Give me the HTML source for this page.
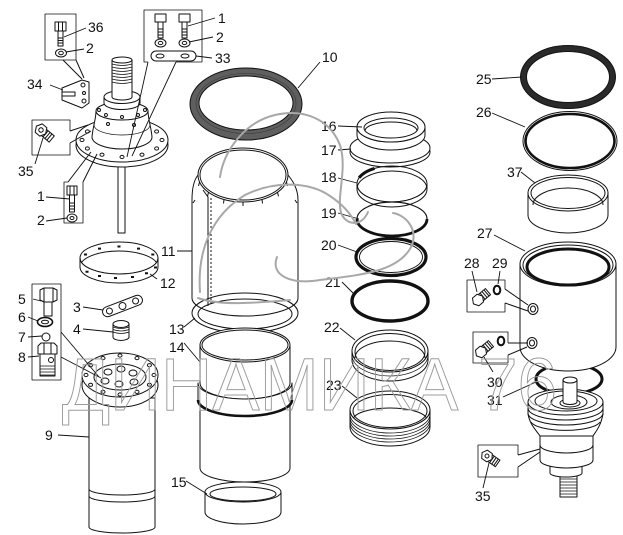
<!DOCTYPE html>
<html><head><meta charset="utf-8">
<style>
html,body{margin:0;padding:0;background:#fff;width:623px;height:535px;overflow:hidden}
svg{display:block}
</style></head><body>
<svg width="623" height="535" viewBox="0 0 623 535" xmlns="http://www.w3.org/2000/svg">
<rect width="623" height="535" fill="#fff"/>
<g fill="#fff" stroke="#111" stroke-width="1" stroke-linejoin="round">
<!-- top-left box 36/2 and bracket 34 -->
<rect x="45" y="14" width="31" height="46" fill="none" stroke-width="0.8"/>
<path d="M55,22 h11 v9 h-11 z M58.5,22 v9 M62.5,22 v9"/>
<rect x="58" y="31" width="5" height="15"/>
<path d="M58,38 h5 M58,40.5 h5 M58,43 h5 M63,60 L82,79 M76,60 L84,78" fill="none"/>
<ellipse cx="61" cy="53" rx="5.5" ry="4"/><ellipse cx="61" cy="53" rx="2.3" ry="1.7"/>
<path d="M62,88 L82,80 L89,82 L89,103 L82,108 L62,100 Z"/>
<path d="M62,92 L75,92 L75,96 L62,96" fill="none"/>
<circle cx="83" cy="85" r="2"/><circle cx="84" cy="93" r="1.5"/><circle cx="84" cy="101" r="2"/>
<!-- top box 1/2/33 -->
<polyline points="148,62 144,62 144,10 202,10 202,62 176,62" fill="none" stroke-width="0.8"/>
<path d="M155,14 h11 v8 h-11 z M179,14 h11 v8 h-11 z"/>
<rect x="158" y="22" width="5" height="16"/><rect x="182" y="22" width="5" height="16"/>
<path d="M158,29 h5 M158,32 h5 M158,35 h5 M182,29 h5 M182,32 h5 M182,35 h5" fill="none"/>
<ellipse cx="160.5" cy="43" rx="5.5" ry="4"/><ellipse cx="160.5" cy="43" rx="2.3" ry="1.6"/>
<ellipse cx="184.5" cy="43" rx="5.5" ry="4"/><ellipse cx="184.5" cy="43" rx="2.3" ry="1.6"/>
<rect x="151" y="51" width="45" height="10" rx="5"/>
<ellipse cx="160" cy="56" rx="4" ry="2"/><ellipse cx="185" cy="56" rx="4" ry="2"/>
<!-- housing with flange -->
<rect x="118" y="150" width="7" height="83"/>
<ellipse cx="122" cy="145" rx="46" ry="22"/>
<ellipse cx="122" cy="140" rx="46" ry="22"/>
<path d="M160,140a2,1.6 0 1,0 4,0a2,1.6 0 1,0 -4,0 M154.6,148.5a2,1.6 0 1,0 4,0a2,1.6 0 1,0 -4,0 M140,154.7a2,1.6 0 1,0 4,0a2,1.6 0 1,0 -4,0 M120,157a2,1.6 0 1,0 4,0a2,1.6 0 1,0 -4,0 M100,154.7a2,1.6 0 1,0 4,0a2,1.6 0 1,0 -4,0 M85.4,148.5a2,1.6 0 1,0 4,0a2,1.6 0 1,0 -4,0 M80,140a2,1.6 0 1,0 4,0a2,1.6 0 1,0 -4,0 M85.4,131.5a2,1.6 0 1,0 4,0a2,1.6 0 1,0 -4,0 M154.6,131.5a2,1.6 0 1,0 4,0a2,1.6 0 1,0 -4,0"/>
<path d="M92,137 C93,126 96,119 96,111 L148,111 C148,119 151,126 152,137 A30,12 0 0 1 92,137 Z"/>
<path d="M94,125 A28,10 0 0 0 150,125" fill="none" stroke-width="0.7"/>
<ellipse cx="122" cy="111" rx="26" ry="9"/>
<path d="M120.5,117a1.5,1.5 0 1,0 3,0a1.5,1.5 0 1,0 -3,0 M104.5,115a1.5,1.5 0 1,0 3,0a1.5,1.5 0 1,0 -3,0 M136.5,115a1.5,1.5 0 1,0 3,0a1.5,1.5 0 1,0 -3,0 M97.5,110a1.5,1.5 0 1,0 3,0a1.5,1.5 0 1,0 -3,0 M143.5,110a1.5,1.5 0 1,0 3,0a1.5,1.5 0 1,0 -3,0 M106.5,124a1.5,1.5 0 1,0 3,0a1.5,1.5 0 1,0 -3,0 M132.5,125a1.5,1.5 0 1,0 3,0a1.5,1.5 0 1,0 -3,0"/>
<path d="M104,97 V103 A18,6.5 0 0 0 140,103 V97 Z"/>
<ellipse cx="122" cy="97" rx="18" ry="6.5"/>
<path d="M112,60 V97 A10,3 0 0 0 132,97 V60 Z"/>
<ellipse cx="122" cy="60" rx="10" ry="3"/>
<path d="M112,64 Q122,67 132,64 M112,67 Q122,70 132,67 M112,70 Q122,73 132,70 M112,73 Q122,76 132,73 M112,76 Q122,79 132,76 M112,79 Q122,82 132,79 M112,82 Q122,85 132,82" fill="none" stroke-width="0.8"/>
<!-- box 35 left -->
<polyline points="70,131 70,120 32,120 32,155 70,155 70,143" fill="none" stroke-width="0.8"/>
<path d="M70,131 L88,125 M70,143 L91,131" fill="none"/>
<g transform="rotate(40 41 130)">
<rect x="44" y="126" width="11" height="8"/>
<path d="M47,126 v8 M49.5,126 v8 M52,126 v8" fill="none"/>
<polygon points="35,130 38,124.5 44,124.5 47,130 44,135.5 38,135.5"/>
<circle cx="41" cy="130" r="2.2"/>
</g>
<!-- lower box 1/2 -->
<polyline points="68,182 64,182 64,223 83,223 83,182" fill="none" stroke-width="0.8"/>
<path d="M68,182 L91,152 M83,182 L97,154" fill="none"/>
<path d="M67,186 h10 v9 h-10 z M70,186 v9 M74,186 v9"/>
<rect x="69.5" y="195" width="5" height="17"/>
<path d="M69.5,203 h5 M69.5,206 h5 M69.5,209 h5" fill="none"/>
<ellipse cx="72" cy="218" rx="5" ry="4"/><ellipse cx="72" cy="218" rx="2" ry="1.5"/>
<!-- ring 12 -->
<ellipse cx="119" cy="258" rx="39" ry="16" fill="none"/>
<path d="M80,267 A39,16 0 0 1 158,267" fill="none"/>
<path d="M80,258 V267 A39,16 0 0 0 158,267 V258 A39,16 0 0 1 80,258 Z"/>
<path fill="none" stroke-width="2" d="M154,267.5h3 M145,273.3h3 M131,277h3 M114,278h3 M98,276h3 M85.5,271.7h3 M84,254.5h3 M98,248.6h3 M117.5,246.5h3 M137,248.6h3 M151.3,254.5h3"/>
<!-- plate 3 -->
<g transform="translate(122.5,306) rotate(-21)">
<rect x="-21" y="-5" width="42" height="10" rx="5"/>
<circle cx="-14" cy="0" r="3"/><circle cx="0" cy="0" r="3.5"/><circle cx="14" cy="0" r="3"/>
</g>
<!-- part 4 -->
<path d="M113,324 V337 A8,3.5 0 0 0 129,337 V324 Z"/>
<ellipse cx="121" cy="324" rx="8" ry="3.5"/>
<path d="M113,327 Q121,330 129,327 M113,329.5 Q121,332.5 129,329.5 M113,332 Q121,335 129,332" fill="none" stroke-width="0.8"/>
<!-- box 5-8 -->
<rect x="32" y="284" width="29" height="96" fill="none" stroke-width="0.8"/>
<polygon points="40,290 44,288 53,288 57,290 57,300 53,302 44,302 40,300"/>
<path d="M44,288 v14 M53,288 v14" fill="none"/>
<rect x="44" y="302" width="8" height="14"/>
<ellipse cx="45" cy="322" rx="7.5" ry="4.5" stroke-width="1.6"/><ellipse cx="45" cy="322" rx="3.5" ry="1.8"/>
<circle cx="46" cy="337" r="4"/>
<polygon points="38,346 41,343 54,343 57,346 57,354 38,354"/>
<path d="M44,343 v11 M51,343 v11" fill="none"/>
<rect x="40" y="354" width="15" height="22"/>
<path d="M40,366 h15 M40,369 h15 M40,372 h15 M40,375 h15" fill="none" stroke-width="0.8"/>
<circle cx="51" cy="360" r="2.5"/>
<!-- part 9 -->
<path d="M89,398 V527 A33,6 0 0 0 155,527 V398 Z"/>
<path d="M89,489 A33,6 0 0 0 155,489 M89,496 A33,6 0 0 0 155,496" fill="none"/>
<ellipse cx="120" cy="385" rx="38" ry="22"/>
<ellipse cx="120" cy="375" rx="38" ry="22"/>
<ellipse cx="120" cy="377" rx="26" ry="13"/>
<path d="M152,375a2,1.6 0 1,0 4,0a2,1.6 0 1,0 -4,0 M147.4,384.8a2,1.6 0 1,0 4,0a2,1.6 0 1,0 -4,0 M135,391.9a2,1.6 0 1,0 4,0a2,1.6 0 1,0 -4,0 M118,394.5a2,1.6 0 1,0 4,0a2,1.6 0 1,0 -4,0 M101,391.9a2,1.6 0 1,0 4,0a2,1.6 0 1,0 -4,0 M88.6,384.8a2,1.6 0 1,0 4,0a2,1.6 0 1,0 -4,0 M84,375a2,1.6 0 1,0 4,0a2,1.6 0 1,0 -4,0 M88.6,365.2a2,1.6 0 1,0 4,0a2,1.6 0 1,0 -4,0 M101,358.1a2,1.6 0 1,0 4,0a2,1.6 0 1,0 -4,0 M118,355.5a2,1.6 0 1,0 4,0a2,1.6 0 1,0 -4,0 M135,358.1a2,1.6 0 1,0 4,0a2,1.6 0 1,0 -4,0 M147.4,365.2a2,1.6 0 1,0 4,0a2,1.6 0 1,0 -4,0"/>
<path d="M104,372a4,3 0 1,0 8,0a4,3 0 1,0 -8,0 M117,369a4,3 0 1,0 8,0a4,3 0 1,0 -8,0 M129,373a4,3 0 1,0 8,0a4,3 0 1,0 -8,0 M101,381a4,3 0 1,0 8,0a4,3 0 1,0 -8,0 M115,384a4,3 0 1,0 8,0a4,3 0 1,0 -8,0 M130,382a4,3 0 1,0 8,0a4,3 0 1,0 -8,0"/>
<!-- ring 10 -->
<path d="M190,104 A56,36 0 1 0 302,104 A56,36 0 1 0 190,104 Z M199,103 A47,27 0 1 1 293,103 A47,27 0 1 1 199,103 Z" fill="#5f5f5f" fill-rule="evenodd"/>
<ellipse cx="246" cy="103.5" rx="50" ry="30" fill="none" stroke="#3a3a3a" stroke-width="0.6"/>
<!-- part 11 -->
<path d="M192,200 C192,188 194,180 198,175 L288,175 C292,180 298,188 298,200 L298,298 A53,18 0 0 1 192,298 Z"/>
<ellipse cx="243" cy="175" rx="45" ry="27"/>
<ellipse cx="243" cy="175" rx="43" ry="25" fill="none"/>
<path d="M286.5,182 l1,4 M277.5,192.4 l1,4 M262,199.5 l0.5,4 M243,202 v4 M224,199.5 l-0.5,4 M208.5,192.4 l-1,4 M199.5,182 l-1,4 M195,200 l-2,3 M295,200 l2,3 M203,190 L208,197 L208,306" fill="none"/>
<line x1="211" y1="198" x2="211" y2="306" stroke-dasharray="2,2"/>
<!-- ring 13 -->
<ellipse cx="245" cy="313" rx="53" ry="20" fill="none"/>
<ellipse cx="245" cy="314" rx="47" ry="15" fill="none"/>
<!-- part 15 -->
<path d="M205,492 V512 A38,12 0 0 0 281,512 V492 Z"/>
<ellipse cx="243" cy="492" rx="38" ry="10"/>
<ellipse cx="243" cy="494" rx="33" ry="7" fill="none"/>
<!-- part 14 -->
<path d="M200,405 V468 A45,14 0 0 0 290,468 V405 Z"/>
<path d="M200,345 V383 A45,16 0 0 0 290,383 V345 Z"/>
<path d="M198,383 A47,16 0 0 0 292,383 V400 A47,16 0 0 1 198,400 Z"/>
<path d="M198,400 A47,16 0 0 0 292,400" fill="none" stroke-width="2.6"/>
<ellipse cx="245" cy="345" rx="45" ry="17"/>
<ellipse cx="245" cy="345" rx="43" ry="15" fill="none"/>
<!-- rings 16/17 -->
<ellipse cx="390" cy="152" rx="40" ry="15"/>
<ellipse cx="390" cy="148" rx="40" ry="15"/>
<path d="M357,127 V135 A34,15 0 0 0 425,135 V127 A34,15 0 0 1 357,127 Z"/>
<ellipse cx="391" cy="127" rx="34" ry="15"/>
<ellipse cx="391" cy="128" rx="27" ry="10" fill="none"/>
<path d="M365,131 A26,9 0 0 1 417,131" fill="none"/>
<!-- ring 18 -->
<ellipse cx="392" cy="184" rx="35" ry="18" fill="none"/>
<path d="M357,189 A35,18 0 0 1 427,189" fill="none"/>
<path d="M357,184 V189 A35,18 0 0 0 427,189 V184 A35,18 0 0 1 357,184 Z"/>
<path d="M359.1,177.8 A35,18 0 0 1 374.5,168.4" fill="none" stroke-width="3"/>
<!-- ring 19 -->
<path d="M357,219 A35,17 0 0 1 427,219" fill="none" stroke-width="1.2"/>
<path d="M357,219 A35,17 0 0 0 427,219" fill="none" stroke-width="2.8"/>
<!-- ring 20 -->
<ellipse cx="391" cy="257" rx="35" ry="18.5" fill="none" stroke-width="3.2"/>
<ellipse cx="391" cy="257" rx="31.5" ry="15.5" fill="none" stroke-width="0.9"/>
<!-- ring 21 -->
<ellipse cx="390" cy="301" rx="38" ry="20" fill="none" stroke-width="3.4"/>
<!-- ring 22 -->
<ellipse cx="390" cy="351" rx="38" ry="21" fill="none"/>
<ellipse cx="390" cy="352" rx="35" ry="18.5" fill="none"/>
<path d="M355,358 A35,17 0 0 1 425,358" fill="none"/>
<path d="M352,351 V360 A38,21 0 0 0 428,360 V351 A38,21 0 0 1 352,351 Z"/>
<path d="M352,355 A38,21 0 0 0 428,355" fill="none" stroke-width="0.7"/>
<!-- ring 23 -->
<ellipse cx="390" cy="410" rx="40" ry="19" fill="none"/>
<ellipse cx="390" cy="411" rx="37" ry="16.5" fill="none"/>
<path d="M353,420 A37,12 0 0 1 427,420" fill="none"/>
<path d="M350,410 V427 A40,19 0 0 0 430,427 V410 A40,19 0 0 1 350,410 Z"/>
<path d="M350,414 A40,19 0 0 0 430,414 M350,417 A40,19 0 0 0 430,417 M350,420 A40,19 0 0 0 430,420 M350,423 A40,19 0 0 0 430,423" fill="none" stroke-width="0.8"/>
<!-- ring 25 -->
<ellipse cx="568" cy="77" rx="44.5" ry="28.5" fill="none" stroke="#2a2a2a" stroke-width="5.5"/>
<ellipse cx="568" cy="77" rx="47.5" ry="31.5" fill="none"/>
<ellipse cx="568" cy="77" rx="41.5" ry="25.5" fill="none"/>
<!-- ring 26 -->
<ellipse cx="570" cy="141" rx="47" ry="29.5" fill="none"/>
<ellipse cx="570" cy="141" rx="44.5" ry="27" fill="none" stroke-width="2.6"/>
<!-- part 37 -->
<path d="M528,193 V215 A40,18 0 0 0 608,215 V193 Z"/>
<ellipse cx="568" cy="193" rx="40" ry="18"/>
<ellipse cx="568" cy="193" rx="37" ry="15.5" fill="none"/>
<path d="M533,205 A35,17 0 0 1 603,205" fill="none"/>
<!-- ring 31 -->
<ellipse cx="569" cy="379" rx="33" ry="15" fill="none" stroke-width="3"/>
<!-- part 27 -->
<path d="M520,264 V347 A48,24 0 0 0 616,347 V264 Z"/>
<ellipse cx="568" cy="264" rx="48" ry="22"/>
<ellipse cx="568" cy="265" rx="45" ry="20" fill="none"/>
<ellipse cx="568" cy="267" rx="41" ry="18" fill="none" stroke-width="3"/>
<ellipse cx="533" cy="309" rx="5" ry="5.5"/><ellipse cx="533" cy="309" rx="2.5" ry="3"/>
<ellipse cx="532" cy="343" rx="5" ry="5.5"/><ellipse cx="532" cy="343" rx="2.5" ry="3"/>
<!-- valve -->
<rect x="560" y="472" width="17" height="25"/>
<path d="M560,476 h17 M560,479 h17 M560,482 h17 M560,485 h17 M560,488 h17 M560,491 h17 M560,494 h17" fill="none" stroke-width="0.8"/>
<path d="M550,462 V473 A16,4 0 0 0 582,473 V462 Z"/>
<path d="M540,433 V460 A26.5,8 0 0 0 593,460 V433 Z"/>
<path d="M540,445 A26.5,8 0 0 0 593,445" fill="none"/>
<path d="M528,402 L528,414 C530,425 536,430 540,436 L593,436 C597,430 601,425 603,414 L603,402 Z"/>
<path d="M528,408 A37.5,12 0 0 0 603,408 M528,413 A37.5,12 0 0 0 603,413 M531,422 A35,10 0 0 0 600,422" fill="none"/>
<ellipse cx="565.5" cy="402" rx="37.5" ry="13"/>
<ellipse cx="566" cy="401" rx="31" ry="10" fill="none"/>
<ellipse cx="569" cy="402" rx="18" ry="7"/>
<ellipse cx="570" cy="403" rx="10" ry="4"/>
<path d="M563,380 V402 A7,2.5 0 0 0 577,402 V380 Z"/>
<ellipse cx="570" cy="380" rx="7" ry="3"/>
<!-- box 28/29 -->
<polyline points="505,289 505,280 467,280 467,312 505,312 505,303" fill="none" stroke-width="0.8"/>
<path d="M505,289 L528,305 M505,303 L528,311" fill="none"/>
<g transform="rotate(-40 478 300)">
<rect x="481" y="296" width="10" height="8"/>
<path d="M484,296 v8 M486.5,296 v8 M489,296 v8" fill="none"/>
<polygon points="472,300 475,295 481,295 484,300 481,305 475,305"/>
</g>
<ellipse cx="497" cy="290" rx="3.3" ry="4.3" fill="none" stroke-width="2"/>
<!-- box 30 -->
<polyline points="508,343 508,332 473,332 473,363 508,363 508,355" fill="none" stroke-width="0.8"/>
<path d="M508,343 L528,343 M508,355 L527,347" fill="none"/>
<g transform="rotate(-40 481 352)">
<rect x="484" y="348" width="10" height="8"/>
<path d="M487,348 v8 M489.5,348 v8 M492,348 v8" fill="none"/>
<polygon points="475,352 478,347 484,347 487,352 484,357 478,357"/>
</g>
<ellipse cx="501" cy="341" rx="3.3" ry="4.3" fill="none" stroke-width="2"/>
<!-- box 35 lower -->
<polyline points="518,455 518,445 478,445 478,477 518,477 518,467" fill="none" stroke-width="0.8"/>
<path d="M518,455 L540,449 M518,467 L540,452" fill="none"/>
<g transform="rotate(35 487 456)">
<rect x="490" y="452" width="10" height="8"/>
<path d="M493,452 v8 M495.5,452 v8 M498,452 v8" fill="none"/>
<polygon points="481,456 484,451 490,451 493,456 490,461 484,461"/>
<circle cx="487" cy="456" r="2"/>
</g>
<!-- leader lines -->
<path fill="none" stroke-width="0.9" d="M86,28L64,37 M84,49L66,52 M50,85L63,90 M35,164L43,138 M46,197L70,199 M46,221L67,218 M215,18L188,26 M213,37L189,42 M212,58L196,56 M148,62L127,157 M176,62L132,156 M320,62L298,88 M338,126L362,127 M338,150L351,149 M338,178L357,183 M338,213L359,219 M338,245L357,252 M342,282L353,293 M177,251L192,251 M157,279L150,274 M83,307L103,310 M83,329L113,332 M33,299L41,301 M28,317L38,321 M28,337L42,336 M28,357L39,356 M61,332L99,377 M61,357L101,378 M58,435L89,437 M184,327L195,318 M184,343L200,362 M186,481L207,494 M340,328L355,340 M342,386L357,398 M492,79L522,77 M492,113L525,127 M521,172L535,183 M494,235L525,251 M472,271L477,292 M500,271L498,284 M493,372L484,357 M503,397L536,382 M483,488L489,463"/>
</g>
<!-- labels -->
<text font-family="Liberation Sans, Arial, sans-serif" font-size="14" fill="#111"><tspan x="88" y="32">36</tspan><tspan x="86" y="53">2</tspan><tspan x="27" y="89">34</tspan><tspan x="18" y="176">35</tspan><tspan x="37" y="201">1</tspan><tspan x="37" y="225">2</tspan><tspan x="218" y="23">1</tspan><tspan x="216" y="42">2</tspan><tspan x="215" y="63">33</tspan><tspan x="322" y="62">10</tspan><tspan x="321" y="131">16</tspan><tspan x="321" y="155">17</tspan><tspan x="321" y="182">18</tspan><tspan x="321" y="218">19</tspan><tspan x="321" y="250">20</tspan><tspan x="325" y="287">21</tspan><tspan x="161" y="256">11</tspan><tspan x="160" y="288">12</tspan><tspan x="73" y="312">3</tspan><tspan x="73" y="334">4</tspan><tspan x="18" y="304">5</tspan><tspan x="18" y="322">6</tspan><tspan x="18" y="342">7</tspan><tspan x="18" y="362">8</tspan><tspan x="45" y="440">9</tspan><tspan x="169" y="334">13</tspan><tspan x="169" y="352">14</tspan><tspan x="171" y="487">15</tspan><tspan x="324" y="332">22</tspan><tspan x="326" y="390">23</tspan><tspan x="476" y="84">25</tspan><tspan x="476" y="117">26</tspan><tspan x="507" y="177">37</tspan><tspan x="477" y="238">27</tspan><tspan x="464" y="268">28</tspan><tspan x="492" y="268">29</tspan><tspan x="487" y="387">30</tspan><tspan x="487" y="405">31</tspan><tspan x="475" y="501">35</tspan></text>
<!-- watermark -->
<g fill="none" stroke="#a8a8a8" stroke-width="2" stroke-linecap="round">
<path d="M220,177 C224,150 245,122 275,115 C305,108 330,120 340,145 C348,170 335,200 342,215 C348,226 362,226 368,212"/>
<path d="M200,292 C197,250 212,215 245,195 C275,180 310,182 330,196 C345,206 352,216 356,224"/>
<path d="M277,257 C270,275 290,285 320,280 C360,275 400,272 412,245 C418,228 405,215 393,213"/>
<path d="M198,298 C220,306 255,303 290,300"/>
</g>
<text x="62" y="410" font-family="Liberation Sans, Arial, sans-serif" font-size="74" textLength="495" lengthAdjust="spacingAndGlyphs" fill="none" stroke="#9c9c9c" stroke-width="1">ДИНАМИКА 76</text>
</svg>
</body></html>
